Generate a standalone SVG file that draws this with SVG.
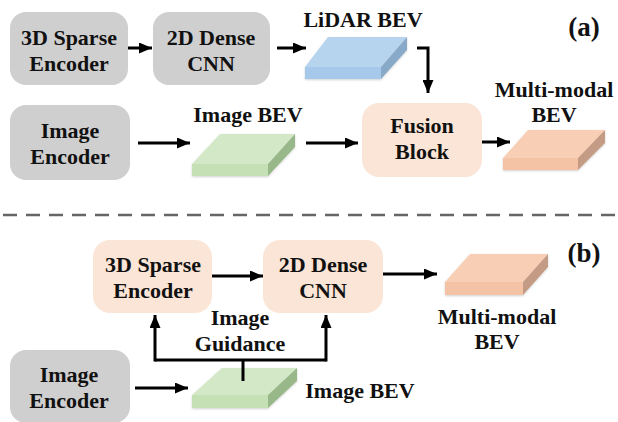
<svg xmlns="http://www.w3.org/2000/svg" width="618" height="422" viewBox="0 0 618 422">
<defs>
<marker id="ah" markerUnits="userSpaceOnUse" markerWidth="13" markerHeight="11" refX="13" refY="5.5" orient="auto">
<path d="M0,0 L13,5.5 L0,11 z" fill="#000"/>
</marker>
<filter id="soft" x="-10%" y="-10%" width="120%" height="130%">
<feGaussianBlur in="SourceAlpha" stdDeviation="1.2"/>
<feOffset dx="0" dy="1" result="b"/>
<feFlood flood-color="#000" flood-opacity="0.18"/>
<feComposite in2="b" operator="in"/>
<feMerge><feMergeNode/><feMergeNode in="SourceGraphic"/></feMerge>
</filter>
</defs>
<style>
text{font-family:"Liberation Serif","Times New Roman",Times,"DejaVu Serif",serif;font-weight:700;font-size:22px;fill:#111;text-anchor:middle}
.lbl{font-size:27px}
.gray{fill:#d0cfcf}
.peach{fill:#fbe5d6}
.conn{stroke:#000;stroke-width:3;fill:none}
.dash{stroke:#666;stroke-width:2.5;stroke-dasharray:14 9}
</style>
<rect width="618" height="422" fill="#fff"/>

<!-- (a) -->
<g id="a-sparse"><rect class="gray" x="10" y="12" width="118" height="73" rx="16"/><text x="69" y="45">3D Sparse</text><text x="69" y="71">Encoder</text></g>
<g id="a-cnn"><rect class="gray" x="153" y="12" width="117" height="73" rx="16"/><text x="211" y="45">2D Dense</text><text x="211" y="71">CNN</text></g>
<g id="a-lidar" filter="url(#soft)">
<polygon points="328,37 407,37 381,67 305,67" fill="#b7d4ef"/>
<polygon points="305,67 381,67 381,79 305,79" fill="#a6c8ea"/>
<polygon points="381,67 407,37 407,50 381,79" fill="#88a9c7"/>
</g>
<text x="363" y="27">LiDAR BEV</text>
<text class="lbl" x="584" y="36">(a)</text>
<g id="a-img-enc"><rect class="gray" x="10" y="105" width="120" height="75" rx="16"/><text x="70" y="138">Image</text><text x="70" y="164">Encoder</text></g>
<g id="a-img-bev" filter="url(#soft)">
<polygon points="220,134 295,134 268,164 192,164" fill="#d3e8c7"/>
<polygon points="192,164 268,164 268,176 192,176" fill="#c5e0b4"/>
<polygon points="268,164 295,134 295,147 268,176" fill="#98b889"/>
</g>
<text x="248" y="122">Image BEV</text>
<g id="a-fusion"><rect class="peach" x="362" y="103" width="120" height="74" rx="17"/><text x="422" y="133">Fusion</text><text x="422" y="159">Block</text></g>
<g id="a-mm" filter="url(#soft)">
<polygon points="528,130 605,130 578,158 503,158" fill="#f8cfb4"/>
<polygon points="503,158 578,158 578,170 503,170" fill="#f4c2a4"/>
<polygon points="578,158 605,130 605,143 578,170" fill="#c49b84"/>
</g>
<text x="554" y="97">Multi-modal</text><text x="554" y="122">BEV</text>

<line class="dash" x1="3" y1="215" x2="618" y2="215"/>

<!-- (b) -->
<g id="b-sparse"><rect class="peach" x="93" y="240" width="119" height="73" rx="17"/><text x="153" y="272">3D Sparse</text><text x="153" y="298">Encoder</text></g>
<g id="b-cnn"><rect class="peach" x="263" y="240" width="120" height="73" rx="17"/><text x="323" y="272">2D Dense</text><text x="323" y="298">CNN</text></g>
<g id="b-mm" filter="url(#soft)">
<polygon points="470,254 548,254 523,282 445,282" fill="#f8cfb4"/>
<polygon points="445,282 523,282 523,295 445,295" fill="#f4c2a4"/>
<polygon points="523,282 548,254 548,267 523,295" fill="#c49b84"/>
</g>
<text x="497" y="324">Multi-modal</text><text x="497" y="349">BEV</text>
<text class="lbl" x="584" y="262">(b)</text>
<text x="240" y="325">Image</text><text x="240" y="351">Guidance</text>
<g id="b-img-enc"><rect class="gray" x="10" y="350" width="120" height="73" rx="16"/><text x="69" y="382">Image</text><text x="69" y="408">Encoder</text></g>
<g id="b-img-bev" filter="url(#soft)">
<polygon points="222,368 297,368 268,395 192,395" fill="#d3e8c7"/>
<polygon points="192,395 268,395 268,408 192,408" fill="#c5e0b4"/>
<polygon points="268,395 297,368 297,381 268,408" fill="#98b889"/>
</g>
<text x="360" y="398">Image BEV</text>

<g id="connectors">
<line class="conn" x1="128" y1="48" x2="152" y2="48" marker-end="url(#ah)"/>
<line class="conn" x1="277" y1="48" x2="306" y2="48" marker-end="url(#ah)"/>
<path class="conn" d="M417,48 H428 V93" marker-end="url(#ah)"/>
<line class="conn" x1="138" y1="143" x2="190" y2="143" marker-end="url(#ah)"/>
<line class="conn" x1="306" y1="143" x2="358" y2="143" marker-end="url(#ah)"/>
<line class="conn" x1="482" y1="142" x2="510" y2="142" marker-end="url(#ah)"/>
<line class="conn" x1="212" y1="276" x2="263" y2="276" marker-end="url(#ah)"/>
<line class="conn" x1="383" y1="274" x2="437" y2="274" marker-end="url(#ah)"/>
<line class="conn" x1="135" y1="388" x2="188" y2="388" marker-end="url(#ah)"/>
<path class="conn" d="M243,381 V360"/>
<path class="conn" d="M155,360 H326"/>
<path class="conn" d="M155,361.5 V315" marker-end="url(#ah)"/>
<path class="conn" d="M326,361.5 V315" marker-end="url(#ah)"/>
</g>
</svg>
